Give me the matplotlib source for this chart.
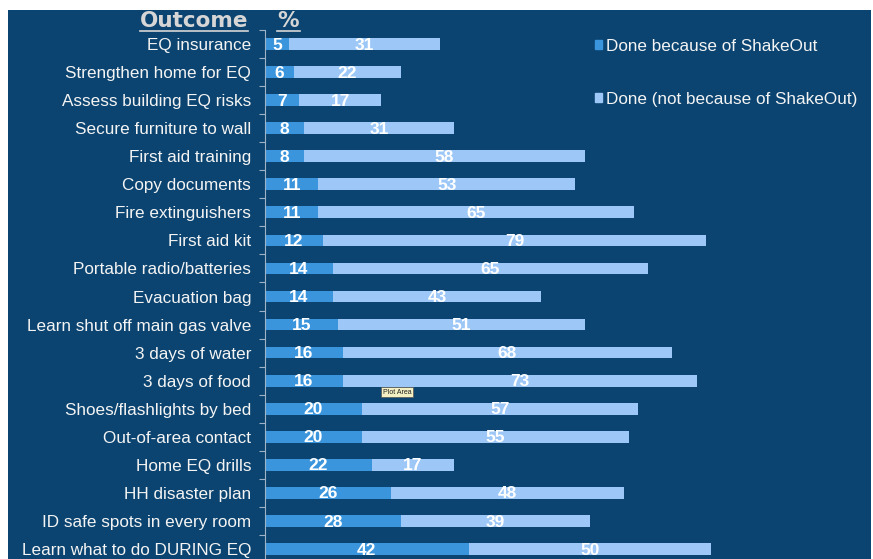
import matplotlib.pyplot as plt
from matplotlib.patches import Rectangle, Patch
from matplotlib.lines import Line2D
import numpy as np

outcomes = ['EQ insurance', 'Strengthen home for EQ', 'Assess building EQ risks',
            'Secure furniture to wall', 'First aid training', 'Copy documents',
            'Fire extinguishers', 'First aid kit', 'Portable radio/batteries',
            'Evacuation bag', 'Learn shut off main gas valve', '3 days of water',
            '3 days of food', 'Shoes/flashlights by bed', 'Out-of-area contact',
            'Home EQ drills', 'HH disaster plan', 'ID safe spots in every room',
            'Learn what to do DURING EQ']
because = [5, 6, 7, 8, 8, 11, 11, 12, 14, 14, 15, 16, 16, 20, 20, 22, 26, 28, 42]
not_because = [31, 22, 17, 31, 58, 53, 65, 79, 65, 43, 51, 68, 73, 57, 55, 17, 48, 39, 50]

navy = '#0b4470'
dark_bar = '#3b95dc'
light_bar = '#9cc7f7'
W, H = 873, 559

plt.rcParams['font.family'] = ['Liberation Sans', 'DejaVu Sans']
fig = plt.figure(figsize=(W / 100, H / 100), dpi=100, facecolor='white')

# navy slide background
fig.patches.append(Rectangle((8 / W, 0), (871 - 8) / W, (H - 10) / H,
                             transform=fig.transFigure, facecolor=navy,
                             edgecolor='none', zorder=0))

ax = fig.add_axes([265 / W, (H - 563) / H, 582 / W, 533 / H])
ax.set_facecolor('none')
ax.set_zorder(2)

y = np.arange(len(outcomes))
b1 = ax.barh(y, because, height=0.42, color=dark_bar)
b2 = ax.barh(y, not_because, left=because, height=0.42, color=light_bar)

for i in range(len(outcomes)):
    ax.text(because[i] / 2, y[i] + 0.04, str(because[i]), ha='center', va='center',
            color='white', fontsize=12.5, fontweight='bold')
    ax.text(because[i] + not_because[i] / 2, y[i] + 0.04, str(not_because[i]),
            ha='center', va='center', color='white', fontsize=12.5, fontweight='bold')

ax.set_xlim(0, 120)
ax.set_ylim(len(outcomes) - 0.5, -0.5)
ax.set_yticks(y)
ax.set_yticklabels(outcomes, color='#f4f4f4', fontsize=12.3)
ax.tick_params(axis='y', which='major', length=0, pad=10)
ax.set_yticks(np.arange(len(outcomes) + 1) - 0.5, minor=True)
ax.tick_params(axis='y', which='minor', length=4, color='#9fb3c8', width=0.8)
ax.set_xticks([])
for s in ['top', 'right', 'bottom']:
    ax.spines[s].set_visible(False)
ax.spines['left'].set_color('#9fb3c8')
ax.spines['left'].set_linewidth(0.8)

# underlined column headers
hdr = '#d6d6d6'
fig.text(248 / W, 1 - 21 / H, 'Outcome', ha='right', va='center', color=hdr,
         fontsize=15.5, fontweight='bold', family='DejaVu Sans')
fig.text(288 / W, 1 - 21 / H, '%', ha='center', va='center', color=hdr,
         fontsize=15.5, fontweight='bold', family='DejaVu Sans')
fig.add_artist(Line2D([140 / W, 248 / W], [1 - 31 / H] * 2, color=hdr, lw=1.2))
fig.add_artist(Line2D([277 / W, 300 / W], [1 - 31 / H] * 2, color=hdr, lw=1.2))

# legend
handles = [Patch(color=dark_bar, label='Done because of ShakeOut'),
           Patch(color=light_bar, label='Done (not because of ShakeOut)')]
fig.legend(handles=handles, loc='upper left', bbox_to_anchor=(586 / W, 1 - 30 / H),
           frameon=False, fontsize=12.3, labelcolor='#f4f4f4', handlelength=0.45,
           handleheight=0.45, handletextpad=0.2, labelspacing=2.25, borderpad=0)

# tooltip left on the slide
fig.text(397 / W, 1 - 392 / H, 'Plot Area', ha='center', va='center', fontsize=5,
         color='#222222', zorder=5,
         bbox=dict(boxstyle='square,pad=0.25', facecolor='#f4f0c4',
                   edgecolor='#555555', linewidth=0.5))

fig.savefig('out.png', dpi=100, facecolor='white')
